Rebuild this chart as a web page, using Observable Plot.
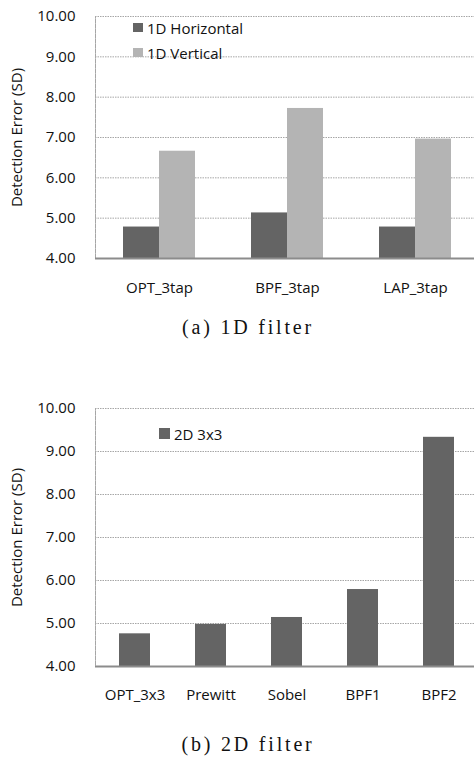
<!DOCTYPE html>
<html>
<head>
<meta charset="utf-8">
<script src="https://cdn.jsdelivr.net/npm/d3@7"></script>
<script src="https://cdn.jsdelivr.net/npm/@observablehq/plot@0.6"></script>
<style>
  html, body { margin: 0; padding: 0; background: #fff; overflow: hidden; }
  #page { position: relative; width: 474px; height: 758px; overflow: hidden; font-family: "Open Sans", sans-serif; }
  .chart { position: absolute; left: 0; }
  .legend { position: absolute; font-family: "Open Sans", sans-serif; font-size: 15px; color: #111; }
  .legend .sw { position: absolute; }
  .legend .lab { position: absolute; transform: translateY(-50%); white-space: nowrap; line-height: 1; }
  .caption { position: absolute; left: 0; width: 496px; text-align: center; font-family: "Liberation Serif", "Times New Roman", serif; font-size: 20px; letter-spacing: 2.8px; color: #111; line-height: 1; transform: translateY(-50%); }
</style>
</head>
<body>
<div id="page"></div>
<script>
// ---- data ----
const yTicks = [4, 5, 6, 7, 8, 9, 10];
const yLabel = "Detection Error (SD)";

const categories1 = ["OPT_3tap", "BPF_3tap", "LAP_3tap"];
const series1 = ["1D Horizontal", "1D Vertical"];
const horizontal1 = [4.78, 5.13, 4.78];
const vertical1 = [6.66, 7.72, 6.96];
const caption1 = "(a) 1D filter";

const categories2 = ["OPT_3x3", "Prewitt", "Sobel", "BPF1", "BPF2"];
const series2 = ["2D 3x3"];
const values2 = [4.76, 4.98, 5.14, 5.79, 9.33];
const caption2 = "(b) 2D filter";

// ---- styles ----
const darkGray = "#646464";
const lightGray = "#b4b4b4";
const colors1 = [darkGray, lightGray];
const colors2 = [darkGray];
const gridColor = "#a6a6a6";
const gridDash = "1.5,1";
const baseColor = "#8c8c8c";
const yMin = yTicks[0], yMax = yTicks[yTicks.length - 1];

const table1 = categories1.flatMap((c, i) => [
  {category: c, series: series1[0], value: horizontal1[i]},
  {category: c, series: series1[1], value: vertical1[i]}
]);
const table2 = categories2.map((c, i) => ({category: c, series: series2[0], value: values2[i]}));

const baseStyle = {fontFamily: "Open Sans, sans-serif", fontSize: "15px", color: "#111", background: "transparent", overflow: "hidden"};

const page = document.getElementById("page");

function yAxisMarks() {
  return [
    Plot.axisY(yTicks, {
      tickSize: 0, tickPadding: 20,
      tickFormat: d => d.toFixed(2),
      label: yLabel, labelAnchor: "center", labelOffset: 84, labelArrow: "none"
    })
  ];
}

// ---- chart 1 (grouped, faceted) ----
const chart1 = Plot.plot({
  width: 474, height: 305,
  marginLeft: 95, marginRight: -5, marginTop: 16, marginBottom: 47,
  style: baseStyle,
  fx: {domain: categories1, padding: 0, label: null},
  x: {domain: series1, paddingInner: 0, paddingOuter: 0.73, axis: null},
  y: {domain: [yMin, yMax], label: yLabel},
  color: {domain: series1, range: colors1},
  marks: [
    Plot.frame({anchor: "left", facetAnchor: "left", stroke: gridColor, strokeDasharray: gridDash}),
    Plot.gridY(yTicks.slice(1), {stroke: gridColor, strokeOpacity: 1, strokeDasharray: gridDash}),
    Plot.barY(table1, {fx: "category", x: "series", y1: yMin, y2: "value", fill: "series"}),
    Plot.ruleY([yMin], {stroke: baseColor, strokeWidth: 2}),
    ...yAxisMarks(),
    Plot.axisFx({anchor: "bottom", tickSize: 0, tickPadding: 24, label: null})
  ]
});
chart1.classList.add("chart");
chart1.style.top = "0px";
page.appendChild(chart1);

// ---- chart 2 ----
const chart2 = Plot.plot({
  width: 474, height: 322,
  marginLeft: 95, marginRight: -4.5, marginTop: 16, marginBottom: 48,
  style: baseStyle,
  x: {domain: categories2, paddingInner: 0.596, paddingOuter: 0.298, label: null},
  y: {domain: [yMin, yMax], label: yLabel},
  color: {domain: series2, range: colors2},
  marks: [
    Plot.frame({anchor: "left", stroke: gridColor, strokeDasharray: gridDash}),
    Plot.gridY(yTicks.slice(1), {stroke: gridColor, strokeOpacity: 1, strokeDasharray: gridDash}),
    Plot.barY(table2, {x: "category", y1: yMin, y2: "value", fill: "series"}),
    Plot.ruleY([yMin], {stroke: baseColor, strokeWidth: 2}),
    ...yAxisMarks(),
    Plot.axisX({tickSize: 0, tickPadding: 23, label: null})
  ]
});
chart2.classList.add("chart");
chart2.style.top = "392px";
page.appendChild(chart2);

// ---- legends (HTML) ----
function addLegend(series, colors, items) {
  const lg = document.createElement("div");
  lg.className = "legend";
  lg.style.left = "0px"; lg.style.top = "0px";
  series.forEach((s, i) => {
    const it = items[i];
    const sw = document.createElement("div");
    sw.className = "sw";
    sw.style.left = it.sx + "px"; sw.style.top = (it.cy - it.size / 2) + "px";
    sw.style.width = it.size + "px"; sw.style.height = it.size + "px";
    sw.style.background = colors[i];
    const lab = document.createElement("div");
    lab.className = "lab";
    lab.style.left = it.tx + "px"; lab.style.top = it.cy + "px";
    lab.textContent = s;
    lg.appendChild(sw); lg.appendChild(lab);
  });
  page.appendChild(lg);
}
addLegend(series1, colors1, [
  {sx: 133, tx: 147, cy: 27.5, size: 9.5},
  {sx: 133, tx: 147, cy: 52.5, size: 9.5}
]);
addLegend(series2, colors2, [
  {sx: 159, tx: 174, cy: 433.5, size: 10.5}
]);

// ---- captions ----
function addCaption(text, cy) {
  const c = document.createElement("div");
  c.className = "caption";
  c.style.top = cy + "px";
  c.textContent = text;
  page.appendChild(c);
}
addCaption(caption1, 327);
addCaption(caption2, 744);
</script>
</body>
</html>
